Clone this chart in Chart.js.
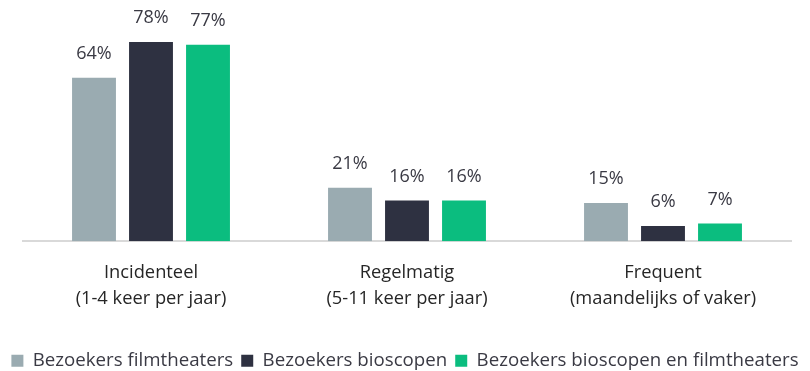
<!DOCTYPE html>
<html>
<head>
<meta charset="utf-8">
<script src="https://cdn.jsdelivr.net/npm/chart.js@4/dist/chart.umd.min.js"></script>
<style>
  html, body { margin: 0; padding: 0; background: #ffffff; }
  #wrap { width: 810px; height: 371px; position: relative; }
</style>
</head>
<body>
<div id="wrap"><canvas id="chart"></canvas></div>
<script>
// Visit frequency categories (two-line labels)
const categories = [
  ['Incidenteel', '(1-4 keer per jaar)'],
  ['Regelmatig', '(5-11 keer per jaar)'],
  ['Frequent', '(maandelijks of vaker)']
];

// Share of visitors per group (%)
const seriesNames = [
  'Bezoekers filmtheaters',
  'Bezoekers bioscopen',
  'Bezoekers bioscopen en filmtheaters'
];
const filmtheaters = [64, 21, 15];
const bioscopen = [78, 16, 6];
const beide = [77, 16, 7];

const colors = ['#9aabb1', '#2e3141', '#0bbd7f'];
const FONT = "'Open Sans', 'Liberation Sans', sans-serif";
const TEXT = '#3a3a44';

// Writes the percentage above every bar
const valueLabels = {
  id: 'valueLabels',
  afterDatasetsDraw(chart) {
    const ctx = chart.ctx;
    ctx.save();
    ctx.font = `18px ${FONT}`;
    ctx.fillStyle = TEXT;
    ctx.textAlign = 'center';
    ctx.textBaseline = 'middle';
    chart.data.datasets.forEach((ds, i) => {
      chart.getDatasetMeta(i).data.forEach((bar, j) => {
        ctx.fillText(ds.data[j] + '%', bar.x, bar.y - 24);
      });
    });
    ctx.restore();
  }
};

// Hidden axis used only to reserve a fixed gutter
const gutter = (w) => ({
  display: true,
  grid: { display: false, drawTicks: false },
  border: { display: false },
  ticks: { display: false },
  afterFit(scale) { scale.width = w; }
});

new Chart(document.getElementById('chart'), {
  type: 'bar',
  data: {
    labels: categories,
    datasets: [
      { label: seriesNames[0], data: filmtheaters, backgroundColor: colors[0] },
      { label: seriesNames[1], data: bioscopen, backgroundColor: colors[1] },
      { label: seriesNames[2], data: beide, backgroundColor: colors[2] }
    ]
  },
  options: {
    responsive: true,
    maintainAspectRatio: false,
    animation: false,
    datasets: {
      bar: { categoryPercentage: 0.668, barPercentage: 0.77 }
    },
    layout: { padding: { top: 37, left: 0, right: 0, bottom: -9 } },
    scales: {
      x: {
        grid: { display: false, drawTicks: false },
        border: { display: true, color: '#d9d9d9', width: 2 },
        ticks: {
          color: '#262626',
          font: { family: FONT, size: 18.3, lineHeight: 1.4 },
          padding: 19,
          maxRotation: 0
        },
        afterFit(scale) { scale.height = 102; }
      },
      y: Object.assign(gutter(23), { min: 0, max: 80 }),
      yRight: Object.assign(gutter(19), { position: 'right', min: 0, max: 80 })
    },
    plugins: {
      legend: {
        position: 'bottom',
        labels: {
          color: TEXT,
          font: { family: FONT, size: 18.7 },
          boxWidth: 12,
          boxHeight: 12,
          padding: 8
        }
      },
      tooltip: { enabled: false }
    }
  },
  plugins: [valueLabels]
});
</script>
</body>
</html>
